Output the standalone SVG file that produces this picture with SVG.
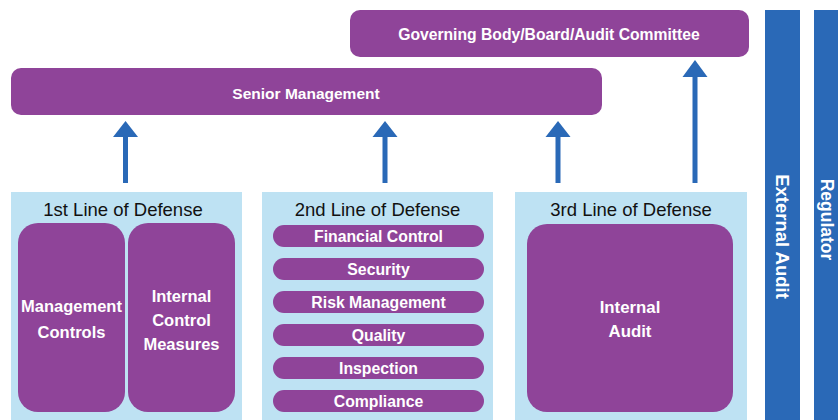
<svg xmlns="http://www.w3.org/2000/svg" width="838" height="420" viewBox="0 0 838 420">
<style>
.p{fill:#8f4499}
.lb{fill:#bee2f3}
.bl{fill:#2a69b7}
.w{fill:#fff;font-family:"Liberation Sans",Arial,sans-serif;font-weight:bold;text-anchor:middle}
.t{fill:#111;font-family:"Liberation Sans",Arial,sans-serif;font-size:18.5px;text-anchor:middle}
</style>
<rect width="838" height="420" fill="#fff"/>
<g id="governing"><rect class="p" x="350" y="10" width="399" height="47" rx="10"/><text class="w" x="549" y="39.5" font-size="15.7">Governing Body/Board/Audit Committee</text></g>
<g id="senior"><rect class="p" x="11" y="68" width="591" height="47" rx="10"/><text class="w" x="306" y="98.5" font-size="15.5">Senior Management</text></g>
<g id="external-audit"><rect class="bl" x="765" y="10" width="35" height="410"/><text class="w" font-size="18.5" transform="translate(776,236.5) rotate(90)">External Audit</text></g>
<g id="regulator"><rect class="bl" x="814" y="10" width="24" height="410"/><text class="w" font-size="17.5" transform="translate(821,219.5) rotate(90)">Regulator</text></g>
<g id="line1"><rect class="lb" x="11" y="192" width="231" height="228"/><text class="t" x="123" y="215.5">1st Line of Defense</text>
<rect class="p" x="18" y="223" width="107" height="189" rx="20"/><text class="w" font-size="16.5" x="71.5" y="312">Management</text><text class="w" font-size="16.5" x="71.5" y="338">Controls</text>
<rect class="p" x="128" y="223" width="107" height="189" rx="20"/><text class="w" font-size="16.5" x="181.5" y="302">Internal</text><text class="w" font-size="16.5" x="181.5" y="326">Control</text><text class="w" font-size="16.5" x="181.5" y="350">Measures</text></g>
<g id="line2"><rect class="lb" x="262" y="192" width="231" height="228"/><text class="t" x="377.5" y="215.5">2nd Line of Defense</text>
<rect class="p" x="273" y="225" width="211" height="22" rx="11"/><text class="w" font-size="15.8" x="378.5" y="241.5">Financial Control</text>
<rect class="p" x="273" y="258" width="211" height="22" rx="11"/><text class="w" font-size="15.8" x="378.5" y="274.5">Security</text>
<rect class="p" x="273" y="291" width="211" height="22" rx="11"/><text class="w" font-size="15.8" x="378.5" y="307.5">Risk Management</text>
<rect class="p" x="273" y="324" width="211" height="22" rx="11"/><text class="w" font-size="15.8" x="378.5" y="340.5">Quality</text>
<rect class="p" x="273" y="357" width="211" height="22" rx="11"/><text class="w" font-size="15.8" x="378.5" y="373.5">Inspection</text>
<rect class="p" x="273" y="390" width="211" height="22" rx="11"/><text class="w" font-size="15.8" x="378.5" y="406.5">Compliance</text></g>
<g id="line3"><rect class="lb" x="515" y="192" width="232" height="228"/><text class="t" x="631" y="215.5">3rd Line of Defense</text>
<rect class="p" x="527" y="224" width="206" height="188" rx="20"/><text class="w" font-size="16.8" x="630" y="313">Internal</text><text class="w" font-size="16.8" x="630" y="337">Audit</text></g>
<g id="connectors" fill="#2a69b7">
<rect x="123" y="136" width="5" height="47"/><polygon points="113,137 138,137 125.5,121"/>
<rect x="382.5" y="136" width="5" height="47"/><polygon points="372.5,137 397.5,137 385,121"/>
<rect x="555.5" y="136" width="5" height="47"/><polygon points="545.5,137 570.5,137 558,121"/>
<rect x="692.5" y="76" width="5" height="107"/><polygon points="682.5,77 707.5,77 695,60"/>
</g>
</svg>
